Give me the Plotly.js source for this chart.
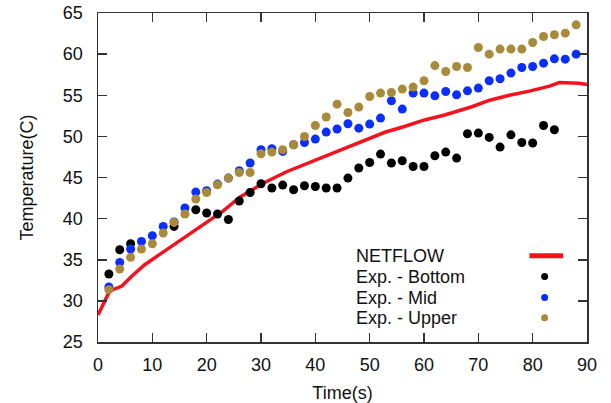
<!DOCTYPE html>
<html>
<head>
<meta charset="utf-8">
<script src="https://cdn.plot.ly/plotly-3.0.1.min.js"></script>
<style>html,body{margin:0;padding:0;background:#fff;}#chart{width:611px;height:403px;}</style>
</head>
<body>
<div id="chart"></div>
<script>
// NETFLOW simulation
const netflowTime = [0, 1, 2, 2.5, 4.4, 6.2, 8.6, 11.7, 14.8, 17.8, 20.9, 23, 26.1, 30.4, 34.7, 37.7, 40.8, 45.4, 49.1, 52.8, 56.4, 60.1, 63.8, 68.8, 72.1, 75.7, 79.4, 83.1, 84.9, 86.8, 88.5, 90];
const netflowTemp = [28.3, 29.7, 31.0, 31.3, 31.8, 33.0, 34.4, 35.8, 37.2, 38.6, 40.0, 40.9, 42.6, 44.3, 45.7, 46.5, 47.3, 48.6, 49.6, 50.5, 51.2, 52.0, 52.6, 53.6, 54.4, 55.0, 55.5, 56.1, 56.55, 56.55, 56.45, 56.3];

// Experimental measurements
const expTime = [2, 4, 6, 8, 10, 12, 14, 16, 18, 20, 22, 24, 26, 28, 30, 32, 34, 36, 38, 40, 42, 44, 46, 48, 50, 52, 54, 56, 58, 60, 62, 64, 66, 68, 70, 72, 74, 76, 78, 80, 82, 84, 86, 88];
const expBottom = [33.27, 36.22, 36.95, null, null, null, 39.05, null, 41.08, 40.68, 40.56, 39.9, 42.14, 43.18, 44.24, 43.72, 44.08, 43.51, 44.0, 43.91, 43.72, 43.72, 44.93, 46.15, 46.83, 47.85, 46.76, 47.03, 46.34, 46.34, 47.64, 48.09, 47.36, 50.32, 50.4, 49.87, 48.7, 50.19, 49.26, 49.19, 51.32, 50.8, null, null];
const expMid = [31.69, 34.68, 36.31, 37.23, 37.92, 39.05, 39.6, 41.29, 43.23, 43.4, 44.2, 44.93, 45.82, 46.76, 48.37, 48.49, 48.17, 48.98, 49.26, 49.67, 50.52, 50.89, 51.53, 51.0, 51.49, 52.22, 54.33, 53.32, 55.26, 55.26, 54.93, 55.46, 55.05, 55.54, 55.87, 56.76, 57.0, 57.69, 58.37, 58.49, 58.9, 59.43, 59.39, 60.0];
const expUpper = [31.36, 33.88, 35.29, 36.31, 36.95, 38.25, 39.54, 40.56, 42.38, 43.18, 44.12, 44.93, 45.61, 45.61, 47.89, 48.09, 48.37, 48.98, 49.99, 51.32, 52.35, 53.92, 52.9, 53.56, 54.85, 55.26, 55.33, 55.75, 55.99, 56.76, 58.61, 57.89, 58.49, 58.37, 60.8, 60.0, 60.61, 60.61, 60.61, 61.41, 62.14, 62.35, 62.55, 63.56];

const xTicks = [0, 10, 20, 30, 40, 50, 60, 70, 80, 90];
const yTicks = [25, 30, 35, 40, 45, 50, 55, 60, 65];
const seriesNames = ["NETFLOW", "Exp. - Bottom", "Exp. - Mid", "Exp. - Upper"];
const seriesColors = ["#f5121e", "#000000", "#0a2eff", "#a98a3b"];

const FONT = "Liberation Sans, Arial, Helvetica, sans-serif";

const traces = [
  {x: netflowTime, y: netflowTemp, mode: "lines", name: seriesNames[0],
   line: {color: seriesColors[0], width: 3.5}},
  {x: expTime, y: expBottom, mode: "markers", name: seriesNames[1],
   marker: {color: seriesColors[1], size: 9}},
  {x: expTime, y: expMid, mode: "markers", name: seriesNames[2],
   marker: {color: seriesColors[2], size: 9}},
  {x: expTime, y: expUpper, mode: "markers", name: seriesNames[3],
   marker: {color: seriesColors[3], size: 9}}
];

// Manual gnuplot-style key: text on left, symbol on right
const keyTextX = 47.2;
const keySymX = 82.2;
const keyRowsY = [35.5, 32.95, 30.4, 27.95];
const annotations = seriesNames.map((n, i) => ({
  x: keyTextX, y: keyRowsY[i], xref: "x", yref: "y", text: n, showarrow: false,
  xanchor: "left", yanchor: "middle", font: {family: FONT, size: 18, color: "#111"}
}));
const shapes = [
  {type: "line", xref: "x", yref: "y", x0: 79.4, x1: 85.6, y0: keyRowsY[0], y1: keyRowsY[0],
   line: {color: seriesColors[0], width: 5}}
];
for (let i = 1; i < 4; i++) {
  shapes.push({type: "circle", xref: "x", yref: "y", xsizemode: "pixel", ysizemode: "pixel",
    xanchor: keySymX, yanchor: keyRowsY[i], x0: -3.5, x1: 3.5, y0: -3.5, y1: 3.5,
    fillcolor: seriesColors[i], line: {width: 0}});
}

const axisCommon = {
  showgrid: false, zeroline: false, showline: true, mirror: "ticks",
  linecolor: "#333", linewidth: 1.5, ticks: "inside", ticklen: 9, tickwidth: 1.5,
  tickcolor: "#333", tickfont: {family: FONT, size: 18, color: "#111"}
};

const layout = {
  width: 611, height: 403,
  margin: {l: 98, r: 24, t: 13, b: 61},
  paper_bgcolor: "#fff", plot_bgcolor: "#fff",
  showlegend: false,
  xaxis: Object.assign({}, axisCommon, {
    range: [0, 90], tickvals: xTicks, ticktext: xTicks.map(String),
    ticklabelstandoff: 6,
    title: {text: "Time(s)", font: {family: FONT, size: 18, color: "#111"}, standoff: 13}
  }),
  yaxis: Object.assign({}, axisCommon, {
    range: [25, 65], tickvals: yTicks, ticktext: yTicks.map(String),
    ticklabelstandoff: 10,
    title: {text: "Temperature(C)", font: {family: FONT, size: 18, color: "#111"}, standoff: 24}
  }),
  annotations: annotations,
  shapes: shapes
};

Plotly.newPlot("chart", traces, layout, {displayModeBar: false, staticPlot: true});
</script>
</body>
</html>
